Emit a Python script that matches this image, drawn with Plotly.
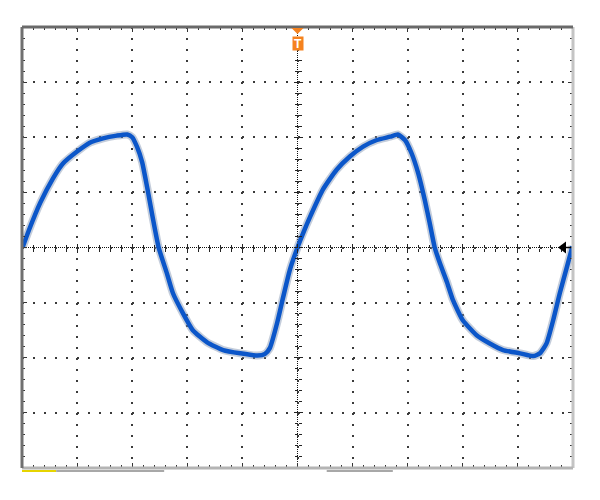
import plotly.graph_objects as go

# Oscilloscope trace: time in divisions (-5..5), amplitude in divisions (-4..4)
time_div = [
    -4.99, -4.88, -4.67, -4.44, -4.26, -4.00, -3.77, -3.53, -3.28, -3.09,
    -3.00, -2.91, -2.82, -2.73, -2.62, -2.52, -2.37, -2.26, -2.08, -1.90,
    -1.64, -1.35, -1.04, -0.73, -0.59, -0.50, -0.37, -0.26, -0.14,
    0.00, 0.11, 0.23, 0.46, 0.71, 0.95, 1.19, 1.44, 1.68, 1.82,
    1.95, 2.07, 2.19, 2.31, 2.40, 2.49, 2.59, 2.71, 2.82, 3.00,
    3.25, 3.49, 3.73, 4.04, 4.28, 4.40, 4.52, 4.64, 4.76, 4.89, 4.99,
]
volt_div = [
    0.00, 0.30, 0.81, 1.25, 1.52, 1.74, 1.90, 1.98, 2.03, 2.05,
    2.00, 1.82, 1.55, 1.10, 0.50, 0.00, -0.47, -0.83, -1.19, -1.50,
    -1.72, -1.86, -1.92, -1.96, -1.93, -1.82, -1.37, -0.90, -0.41,
    0.00, 0.28, 0.56, 1.05, 1.41, 1.65, 1.83, 1.95, 2.01, 2.05,
    1.95, 1.71, 1.35, 0.86, 0.44, 0.00, -0.30, -0.62, -0.95, -1.32,
    -1.59, -1.74, -1.86, -1.92, -1.97, -1.92, -1.74, -1.32, -0.83, -0.35, 0.02,
]

x_range = [-5, 5]
y_range = [-4, 4]

fig = go.Figure()

# noisy halo
fig.add_trace(go.Scatter(
    x=time_div, y=volt_div, mode="lines",
    line=dict(color="rgba(125,145,175,0.45)", width=8, shape="spline", smoothing=0.5),
    hoverinfo="skip", showlegend=False,
))
# core trace
fig.add_trace(go.Scatter(
    x=time_div, y=volt_div, mode="lines",
    line=dict(color="#0b56c9", width=4.5, shape="spline", smoothing=0.5),
    showlegend=False,
))

# hosts for the center axes
fig.add_trace(go.Scatter(x=x_range, y=[0, 0], xaxis="x2", yaxis="y2",
                         mode="lines", line=dict(width=0), hoverinfo="skip", showlegend=False))
fig.add_trace(go.Scatter(x=x_range, y=[0, 0], xaxis="x3", yaxis="y3",
                         mode="lines", line=dict(width=0), hoverinfo="skip", showlegend=False))

dot_dash = "2px,9.02px"
grid_col = "#3a3a3a"

common_main = dict(
    showgrid=True, gridcolor=grid_col, gridwidth=2, griddash=dot_dash,
    zeroline=False, showline=False, showticklabels=False,
    ticks="inside", ticklen=5, tickwidth=1, tickcolor="#333",
    mirror="ticks", fixedrange=True,
)

def center_axis(rng, overlay, side, ticks):
    return dict(range=rng, overlaying=overlay, anchor="free", position=0.5, side=side,
                showgrid=False, zeroline=False, showline=False, showticklabels=False,
                ticks=ticks, ticklen=4, tickcolor="#222", dtick=1,
                minor=dict(ticks=ticks, ticklen=3, dtick=0.2, tickcolor="#222"))

# page body has an 8px margin, so the plot area is shifted accordingly
fig.update_layout(
    width=600, height=500,
    margin=dict(l=14, r=35, t=19, b=40),
    paper_bgcolor="white", plot_bgcolor="white",
    xaxis=dict(range=x_range, dtick=1, **common_main,
               minor=dict(ticks="inside", ticklen=3, dtick=0.2, tickcolor="#333", showgrid=False)),
    yaxis=dict(range=y_range, dtick=1, **common_main,
               minor=dict(ticks="inside", ticklen=3, dtick=0.2, tickcolor="#333", showgrid=False)),
    xaxis2=center_axis(x_range, "x", "bottom", "outside"),
    yaxis2=center_axis(y_range, "y", "left", "outside"),
    xaxis3=center_axis(x_range, "x", "bottom", "inside"),
    yaxis3=center_axis(y_range, "y", "left", "inside"),
)

shapes = []
# center dotted lines
shapes.append(dict(type="line", xref="x", yref="paper", x0=0, x1=0, y0=0, y1=1,
                   line=dict(color="#111", width=1, dash="1px,1px"), layer="below"))
shapes.append(dict(type="line", xref="paper", yref="y", x0=0, x1=1, y0=0, y1=0,
                   line=dict(color="#111", width=1, dash="1px,1px"), layer="below"))
# bevelled border
shapes.append(dict(type="line", xref="paper", yref="paper", x0=1, x1=1, y0=0, y1=1,
                   line=dict(color="#c4c4c4", width=3), layer="above"))
shapes.append(dict(type="line", xref="paper", yref="paper", x0=0, x1=1, y0=0, y1=0,
                   line=dict(color="#b4b4b4", width=3), layer="above"))
shapes.append(dict(type="line", xref="paper", yref="paper", x0=0, x1=0, y0=0, y1=1,
                   line=dict(color="#707070", width=3), layer="above"))
shapes.append(dict(type="line", xref="paper", yref="paper", x0=0, x1=1, y0=1, y1=1,
                   line=dict(color="#6a6a6a", width=3), layer="above"))
# trigger position triangle (top)
shapes.append(dict(type="path", xref="x", yref="paper", xsizemode="pixel", ysizemode="pixel",
                   xanchor=0, yanchor=1, path="M-6,-1 L6,-1 L0,-7 Z",
                   fillcolor="#f5821f", line=dict(width=0), layer="above"))
# ground level arrow (right)
shapes.append(dict(type="path", xref="paper", yref="y", xsizemode="pixel", ysizemode="pixel",
                   xanchor=1, yanchor=0, path="M-15,0 L-7,6 L-7,-6 Z",
                   fillcolor="black", line=dict(width=0), layer="above"))
shapes.append(dict(type="path", xref="paper", yref="y", xsizemode="pixel", ysizemode="pixel",
                   xanchor=1, yanchor=0, path="M-8,0 L-2,0",
                   line=dict(color="black", width=1.5), layer="above"))
# memory position bars below the screen
shapes.append(dict(type="rect", xref="paper", yref="paper", ysizemode="pixel", yanchor=0,
                   x0=0.0, x1=0.062, y0=-2, y1=-4, fillcolor="#e6d400", line=dict(width=0)))
shapes.append(dict(type="rect", xref="paper", yref="paper", ysizemode="pixel", yanchor=0,
                   x0=0.062, x1=0.258, y0=-2, y1=-4, fillcolor="#a8a8a8", line=dict(width=0)))
shapes.append(dict(type="rect", xref="paper", yref="paper", ysizemode="pixel", yanchor=0,
                   x0=0.553, x1=0.673, y0=-2, y1=-4, fillcolor="#a8a8a8", line=dict(width=0)))
fig.update_layout(shapes=shapes)

fig.add_annotation(
    x=0, xref="x", y=1, yref="paper", yshift=-16, yanchor="middle",
    text="<b>T</b>", showarrow=False,
    font=dict(family="Liberation Sans, Arial", size=12, color="white"),
    bgcolor="#f5821f", width=10, height=13, borderpad=0,
)

fig.write_html("out.html")
